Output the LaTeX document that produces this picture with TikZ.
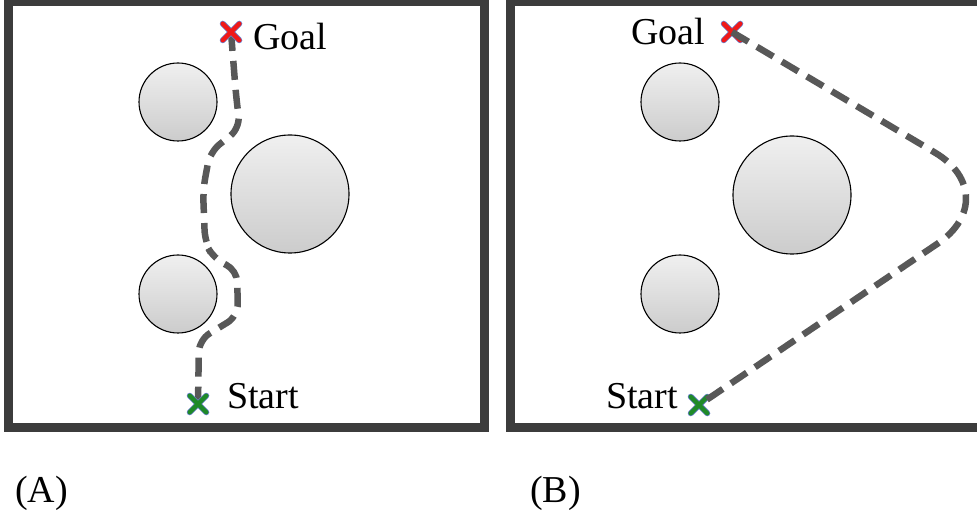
\documentclass[tikz,border=0pt]{standalone}
\usepackage{fontspec}
\setmainfont{Liberation Serif}
\usetikzlibrary{shapes.misc}
\definecolor{framegray}{HTML}{3C3C3C}
\definecolor{pathgray}{HTML}{585858}
\definecolor{goalred}{HTML}{F01818}
\definecolor{startgreen}{HTML}{1E8A28}
\definecolor{rimblue}{HTML}{6A80CC}
\begin{document}
\begin{tikzpicture}[x=1pt,y=-1pt,
  panel/.style={draw=framegray,line width=9pt},
  obstacle/.style={circle,draw=black,line width=1.1pt,top color=black!6,bottom color=black!20,inner sep=0pt},
  route/.style={draw=pathgray,line width=6.5pt,dash pattern=on 19pt off 10pt},
  goalmark/.style={cross out,draw=goalred,line width=4.5pt,line cap=round,minimum size=12pt,inner sep=0pt,
    preaction={draw=rimblue,line width=6pt,line cap=round}},
  startmark/.style={goalmark,draw=startgreen},
  lbl/.style={anchor=base west,inner sep=0pt,font=\fontsize{38}{40}\selectfont},
]
\useasboundingbox (0,0) rectangle (977,518);
\clip (0,0) rectangle (977,518);

% ---- panel A ----
\draw[panel] (8,2) rectangle (484,427);
\node[obstacle,minimum size=78pt]  (a1) at (178,102) {};
\node[obstacle,minimum size=118pt] (a2) at (290,194) {};
\node[obstacle,minimum size=78pt]  (a3) at (178,294) {};

\coordinate (goalA) at (231,32);
\coordinate (startA) at (198,404);
\draw[route,rounded corners=12pt] (goalA) -- (236,95) -- (240,128) -- (210,152) -- (203,190)
  -- (205,242) -- (214,259) -- (237,270) -- (238,316) -- (199,340) -- (startA);
\node[goalmark]  (gA) at (goalA) {};
\node[startmark] (sA) at (startA) {};
\node[lbl] (tgA) at (253,50) {Goal};
\node[lbl] (tsA) at (227,409) {Start};

% ---- panel B ----
\draw[panel] (510,2) rectangle (986,427);
\node[obstacle,minimum size=78pt]  (b1) at (680,102) {};
\node[obstacle,minimum size=118pt] (b2) at (792,195) {};
\node[obstacle,minimum size=78pt]  (b3) at (680,294) {};

\coordinate (goalB) at (732,32);
\coordinate (startB) at (699,405);
\coordinate (turnB) at (1008,196);
\node[goalmark]  (gB) at (goalB) {};
\node[startmark] (sB) at (startB) {};
\draw[route,rounded corners=85pt] (goalB) -- (turnB) -- (startB);
\node[lbl] (tgB) at (631,45) {Goal};
\node[lbl] (tsB) at (606,408) {Start};

% ---- captions ----
\node[lbl] (capA) at (15,502) {(A)};
\node[lbl] (capB) at (530,502) {(B)};
\end{tikzpicture}
\end{document}
